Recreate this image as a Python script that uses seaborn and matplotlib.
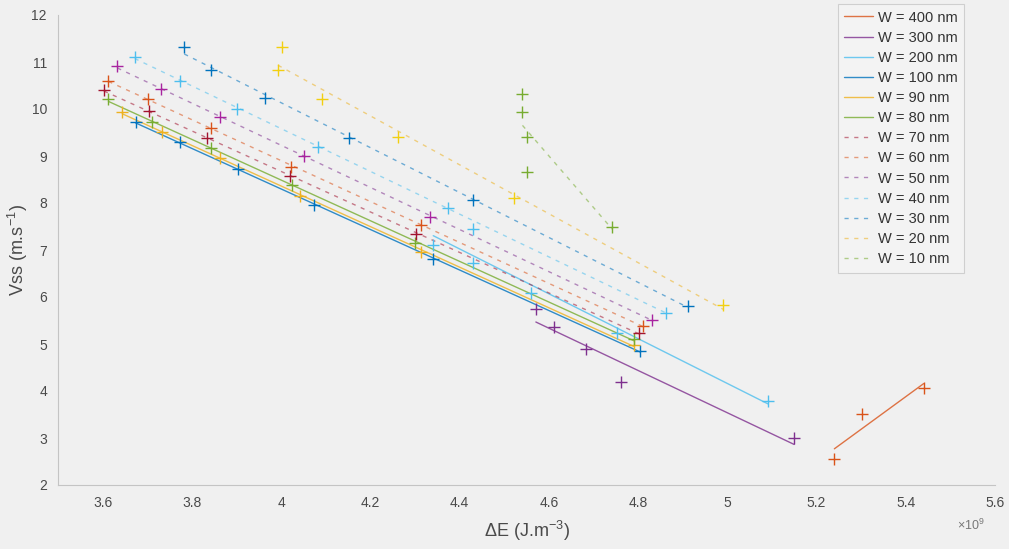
import numpy as np
import pandas as pd
import seaborn as sns
import matplotlib
matplotlib.use("Agg")
import matplotlib.pyplot as plt

# ---- data (Delta E in units of 1e9 J.m^-3, Vss in m.s^-1) ----
labels = ["W = 400 nm", "W = 300 nm", "W = 200 nm", "W = 100 nm", "W = 90 nm",
          "W = 80 nm", "W = 70 nm", "W = 60 nm", "W = 50 nm", "W = 40 nm",
          "W = 30 nm", "W = 20 nm", "W = 10 nm"]

de_400 = [5.240, 5.301, 5.440]
vs_400 = [2.55, 3.51, 4.06]
de_300 = [4.571, 4.612, 4.683, 4.761, 5.150]
vs_300 = [5.74, 5.36, 4.89, 4.19, 3.01]
de_200 = [4.341, 4.431, 4.431, 4.561, 4.752, 5.091]
vs_200 = [7.11, 7.44, 6.73, 6.08, 5.23, 3.79]
de_100 = [3.674, 3.773, 3.903, 4.073, 4.340, 4.804]
vs_100 = [9.72, 9.29, 8.72, 7.96, 6.80, 4.86]
de_90 = [3.644, 3.732, 3.862, 4.043, 4.314, 4.792]
vs_90 = [9.94, 9.52, 8.95, 8.15, 6.96, 4.98]
de_80 = [3.613, 3.711, 3.842, 4.024, 4.301, 4.791]
vs_80 = [10.21, 9.72, 9.16, 8.38, 7.14, 5.10]
de_70 = [3.603, 3.704, 3.833, 4.021, 4.302, 4.802]
vs_70 = [10.40, 9.96, 9.38, 8.57, 7.34, 5.24]
de_60 = [3.613, 3.702, 3.842, 4.023, 4.314, 4.812]
vs_60 = [10.60, 10.21, 9.59, 8.77, 7.53, 5.38]
de_50 = [3.633, 3.730, 3.862, 4.051, 4.334, 4.832]
vs_50 = [10.92, 10.42, 9.82, 9.00, 7.71, 5.52]
de_40 = [3.672, 3.773, 3.901, 4.082, 4.373, 4.862]
vs_40 = [11.11, 10.60, 10.01, 9.20, 7.89, 5.67]
de_30 = [3.783, 3.844, 3.963, 4.152, 4.431, 4.912]
vs_30 = [11.31, 10.83, 10.23, 9.38, 8.06, 5.81]
de_20 = [4.002, 3.993, 4.091, 4.263, 4.522, 4.991]
vs_20 = [11.31, 10.83, 10.21, 9.40, 8.10, 5.83]
de_10 = [4.541, 4.541, 4.552, 4.552, 4.742]
vs_10 = [10.31, 9.94, 9.41, 8.65, 7.50]

x_ticks = [3.6, 3.8, 4.0, 4.2, 4.4, 4.6, 4.8, 5.0, 5.2, 5.4, 5.6]
x_tick_labels = ["3.6", "3.8", "4", "4.2", "4.4", "4.6", "4.8", "5", "5.2", "5.4", "5.6"]
y_ticks = [2, 3, 4, 5, 6, 7, 8, 9, 10, 11, 12]

series_x = [de_400, de_300, de_200, de_100, de_90, de_80, de_70, de_60,
            de_50, de_40, de_30, de_20, de_10]
series_y = [vs_400, vs_300, vs_200, vs_100, vs_90, vs_80, vs_70, vs_60,
            vs_50, vs_40, vs_30, vs_20, vs_10]

# MATLAB default colour order
C_BLUE = "#0072BD"
C_ORANGE = "#D95319"
C_YELLOW = "#EDB120"
C_PURPLE = "#7E2F8E"
C_GREEN = "#77AC30"
C_LBLUE = "#4DBEEE"
C_RED = "#A2142F"
line_colors = [C_ORANGE, C_PURPLE, C_LBLUE, C_BLUE, C_YELLOW, C_GREEN, C_RED,
               C_ORANGE, C_PURPLE, C_LBLUE, C_BLUE, C_YELLOW, C_GREEN]
marker_colors = [C_ORANGE, C_PURPLE, C_LBLUE, C_BLUE, C_YELLOW, C_GREEN, C_RED,
                 C_ORANGE, "#A8239F", C_LBLUE, C_BLUE, "#F2CF10", C_GREEN]
dashed = [False] * 6 + [True] * 7

# ---- style ----
sns.set_theme(style="white")
BG = "#f0f0f0"
plt.rcParams["font.family"] = ["Liberation Sans", "DejaVu Sans"]
plt.rcParams["mathtext.fontset"] = "custom"
plt.rcParams["mathtext.rm"] = "Liberation Sans"
plt.rcParams["mathtext.it"] = "Liberation Sans"

fig = plt.figure(figsize=(10.09, 5.49), dpi=100, facecolor=BG)
ax = fig.add_axes([58 / 1009, 1 - 485 / 549, (995 - 58) / 1009, (485 - 15) / 549])
ax.set_facecolor(BG)

for xs, ys, lab, lc, mc, dsh in zip(series_x, series_y, labels, line_colors,
                                     marker_colors, dashed):
    df = pd.DataFrame({"de": np.array(xs) * 1e9, "vss": ys})
    kws = dict(color=lc, linewidth=1.0, alpha=0.55 if dsh else 0.8)
    if dsh:
        kws["linestyle"] = (0, (3, 4))
    sns.regplot(data=df, x="de", y="vss", ax=ax, scatter=False, ci=None,
                truncate=True, label=lab, line_kws=kws)
    sns.scatterplot(data=df, x="de", y="vss", ax=ax, marker="+", s=80,
                    color=mc, linewidth=1.0, zorder=3)

ax.set_xlim(3.5e9, 5.6e9)
ax.set_ylim(2, 12)
ax.set_xticks(np.array(x_ticks) * 1e9)
ax.set_xticklabels(x_tick_labels)
ax.set_yticks(y_ticks)
ax.set_yticklabels([str(v) for v in y_ticks])

TXT = "#4a4a4a"
for s in ["top", "right"]:
    ax.spines[s].set_visible(False)
for s in ["left", "bottom"]:
    ax.spines[s].set_color("#c4c4c4")
    ax.spines[s].set_linewidth(0.8)
ax.tick_params(axis="both", direction="in", length=4, width=0.6, color="#c4c4c4",
               labelsize=10, labelcolor=TXT, pad=8)

ax.set_xlabel(r"$\Delta$E (J.m$^{-3}$)", fontsize=13, color=TXT, labelpad=6)
ax.set_ylabel(r"Vss (m.s$^{-1}$)", fontsize=13, color=TXT)
ax.yaxis.label.set_va("center")
ax.yaxis.set_label_coords(-40 / 937, 0.5)
fig.text(985 / 1009, 1 - 525 / 549, r"$\times$10$^{9}$", fontsize=9, color="#777777",
         ha="right", va="center")

leg = ax.legend(loc="upper right", bbox_to_anchor=(964 / 1009, 545 / 549),
                bbox_transform=fig.transFigure, fontsize=10.5, frameon=True,
                fancybox=False, edgecolor="#cfcfcf", facecolor="#f3f3f3",
                framealpha=1, handlelength=2.0, handletextpad=0.3,
                labelspacing=0.42, borderpad=0.45, borderaxespad=0)
for t in leg.get_texts():
    t.set_color("#333333")
leg.get_frame().set_linewidth(0.8)

fig.savefig("out.png", dpi=100, facecolor=BG)
